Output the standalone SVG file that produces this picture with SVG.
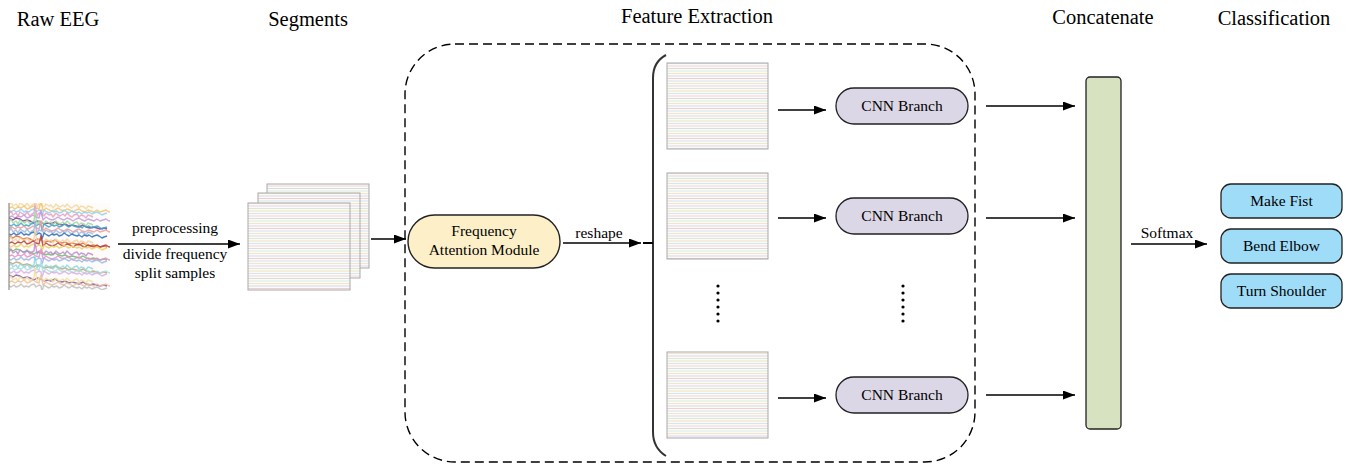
<svg xmlns="http://www.w3.org/2000/svg" xmlns:xlink="http://www.w3.org/1999/xlink" width="1352" height="465" viewBox="0 0 1352 465">
<style>
  .title{font-family:"Liberation Serif","Times New Roman",serif;font-size:20.5px;fill:#000;text-anchor:middle}
  .lbl{font-family:"Liberation Serif","Times New Roman",serif;font-size:15.5px;fill:#000;text-anchor:middle}
  .conn{stroke:#000;stroke-width:1.5;fill:none;marker-end:url(#ah)}
  .seg{fill:url(#stripes);stroke:#a9a9a9;stroke-width:1}
  .cnn{fill:#dcd7e6;stroke:#222;stroke-width:1.3}
  .cls{fill:#9fdcf8;stroke:#222;stroke-width:1.3}
  .sq{fill:none;stroke-width:1.4;stroke-linejoin:round}
</style>
<defs>
  <marker id="ah" viewBox="0 0 12 9" refX="12" refY="4.5" markerWidth="12" markerHeight="9" markerUnits="userSpaceOnUse" orient="auto">
    <path d="M0,0 L12,4.5 L0,9 z" fill="#000"/>
  </marker>
  <pattern id="stripes" patternUnits="userSpaceOnUse" width="104" height="30">
    <rect width="104" height="30" fill="#fbfaf6"/>
    <g stroke-width="1">
      <line x1="0" y1="1" x2="104" y2="1" stroke="#f1e3c4"/>
      <line x1="0" y1="3.5" x2="104" y2="3.5" stroke="#d6e6f1"/>
      <line x1="0" y1="6" x2="104" y2="6" stroke="#eed6de"/>
      <line x1="0" y1="8.5" x2="104" y2="8.5" stroke="#dcdcdc"/>
      <line x1="0" y1="11" x2="104" y2="11" stroke="#d8eee2"/>
      <line x1="0" y1="13.5" x2="104" y2="13.5" stroke="#f3e6c8"/>
      <line x1="0" y1="16" x2="104" y2="16" stroke="#dbd7ee"/>
      <line x1="0" y1="18.5" x2="104" y2="18.5" stroke="#ecd0d0"/>
      <line x1="0" y1="21" x2="104" y2="21" stroke="#d3e4ee"/>
      <line x1="0" y1="23.5" x2="104" y2="23.5" stroke="#eee7d0"/>
      <line x1="0" y1="26" x2="104" y2="26" stroke="#e4d6ea"/>
      <line x1="0" y1="28.5" x2="104" y2="28.5" stroke="#d9e9d6"/>
    </g>
  </pattern>
  <clipPath id="eegclip"><rect x="9" y="203" width="101" height="87"/></clipPath>
  <path id="s1" class="sq" d="M0,0 l3,-1 3,2 3,-2 3,1 3,-2 3,3 3,-1 3,-2 3,2 3,1 2,-8 2,10 3,-3 3,2 3,1 3,-1 3,-2 3,2 3,1 3,-2 3,1 3,2 3,-2 3,-1 3,2 3,1 3,-2 3,1 3,1 3,-2 3,2 3,-1 3,-1 3,2 3,-1"/>
  <path id="s2" class="sq" d="M0,0 l2,1 3,-2 2,2 3,-1 2,-2 3,3 2,-1 3,1 2,-2 3,-1 2,3 3,-2 2,1 1,5 2,-6 3,2 2,1 3,-2 2,1 3,-1 2,2 3,-1 2,-2 3,2 2,1 3,-2 2,1 3,1 2,-1 3,2 2,-2 3,1 2,-1 3,2 2,-1 3,-1 2,1 3,2 2,-1 3,-1"/>
  <path id="s3" class="sq" d="M0,0 l4,2 3,-2 4,1 3,2 4,-1 3,1 4,2 3,-2 4,1 3,2 4,-1 3,1 4,-2 3,2 4,1 3,-1 4,2 3,-1 4,1 3,1 4,-2 3,2 4,1 3,-1 4,1 3,1 4,-1 3,1"/>
  <path id="s4" class="sq" d="M0,0 l2,-3 2,4 3,-2 2,3 2,-4 3,2 2,1 2,-3 3,4 2,-2 2,-1 1,-9 2,12 2,-3 3,1 2,2 2,-3 3,2 2,-1 2,3 3,-4 2,2 2,1 3,-2 2,2 2,-3 3,3 2,1 2,-2 3,-1 2,3 2,-2 3,1 2,2 2,-3 3,1 2,1"/>
</defs>

<rect width="1352" height="465" fill="#fff"/>

<!-- titles -->
<text class="title" x="58" y="26">Raw EEG</text>
<text class="title" x="308" y="26">Segments</text>
<text class="title" x="697" y="23">Feature Extraction</text>
<text class="title" x="1103" y="24">Concatenate</text>
<text class="title" x="1274" y="25">Classification</text>

<!-- Raw EEG -->
<g id="raw-eeg">
  <rect x="9" y="203" width="101" height="87" fill="#fdfcfa"/>
  <g clip-path="url(#eegclip)" stroke-opacity="0.85">
    <use xlink:href="#s4" x="9" y="205" stroke="#f6d7a0"/>
    <use xlink:href="#s1" x="9" y="208" stroke="#f5c46a"/>
    <use xlink:href="#s2" x="9" y="211" stroke="#8fd0f0"/>
    <use xlink:href="#s4" x="9" y="214" stroke="#e8a0c8"/>
    <use xlink:href="#s1" x="9" y="217" stroke="#c49ad8"/>
    <use xlink:href="#s3" x="9" y="218" stroke="#7a3c8a"/>
    <use xlink:href="#s4" x="9" y="222" stroke="#a0d8a0"/>
    <use xlink:href="#s2" x="9" y="225" stroke="#3aa6c8"/>
    <use xlink:href="#s1" x="9" y="228" stroke="#f09a9a"/>
    <use xlink:href="#s4" x="9" y="231" stroke="#9fb8e0"/>
    <use xlink:href="#s2" x="9" y="234" stroke="#2b6fb8"/>
    <use xlink:href="#s3" x="9" y="236" stroke="#e0703a"/>
    <use xlink:href="#s4" x="9" y="240" stroke="#f4d0a0"/>
    <use xlink:href="#s1" x="9" y="243" stroke="#b43c3c"/>
    <use xlink:href="#s2" x="9" y="246" stroke="#f0d060"/>
    <use xlink:href="#s3" x="9" y="249" stroke="#6bc06b"/>
    <use xlink:href="#s4" x="9" y="252" stroke="#c08ad0"/>
    <use xlink:href="#s1" x="9" y="256" stroke="#e890c8"/>
    <use xlink:href="#s2" x="9" y="259" stroke="#9ab8e8"/>
    <use xlink:href="#s3" x="9" y="262" stroke="#c8a070"/>
    <use xlink:href="#s4" x="9" y="266" stroke="#8ed8e0"/>
    <use xlink:href="#s1" x="9" y="269" stroke="#a8e0e0"/>
    <use xlink:href="#s2" x="9" y="272" stroke="#d8b0e8"/>
    <use xlink:href="#s3" x="9" y="275" stroke="#8a5aa8"/>
    <use xlink:href="#s4" x="9" y="279" stroke="#f0e0a0"/>
    <use xlink:href="#s1" x="9" y="282" stroke="#f0c0a0"/>
    <use xlink:href="#s2" x="9" y="286" stroke="#c0c0c0"/>
  </g>
  <line x1="9" y1="203" x2="9" y2="290" stroke="#8c8c8c" stroke-width="1.2"/>
</g>

<!-- Segments -->
<g id="segments">
  <rect class="seg" x="267" y="184" width="102" height="84"/>
  <rect class="seg" x="258" y="193" width="102" height="85"/>
  <rect class="seg" x="248" y="203" width="102" height="87"/>
</g>

<!-- Feature extraction container -->
<g id="feature-extraction">
  <rect x="405" y="44" width="570" height="418" rx="50" ry="50" fill="none" stroke="#000" stroke-width="1.4" stroke-dasharray="9,5"/>
</g>

<g id="fam">
  <rect x="408" y="215" width="152" height="53" rx="26.5" ry="26.5" fill="#fdf0c9" stroke="#222" stroke-width="1.4"/>
  <text class="lbl" x="484" y="236">Frequency</text>
  <text class="lbl" x="484" y="255">Attention Module</text>
</g>

<g id="brace">
  <path d="M666,55 Q653,62 653,78 L653,432 Q653,448 666,456" fill="none" stroke="#333" stroke-width="2"/>
  <line x1="643" y1="243" x2="653" y2="243" stroke="#000" stroke-width="2"/>
</g>

<g id="seg-1"><rect class="seg" x="667" y="63" width="101" height="86"/></g>
<g id="seg-2"><rect class="seg" x="667" y="173" width="101" height="86"/></g>
<g id="seg-n"><rect class="seg" x="667" y="352" width="101" height="86"/></g>

<g id="cnn-1">
  <rect class="cnn" x="836" y="88" width="132" height="36" rx="18" ry="18"/>
  <text class="lbl" x="902" y="111">CNN Branch</text>
</g>
<g id="cnn-2">
  <rect class="cnn" x="836" y="198" width="132" height="36" rx="18" ry="18"/>
  <text class="lbl" x="902" y="221">CNN Branch</text>
</g>
<g id="cnn-n">
  <rect class="cnn" x="836" y="377" width="132" height="36" rx="18" ry="18"/>
  <text class="lbl" x="902" y="400">CNN Branch</text>
</g>

<g id="ellipsis" fill="#000">
  <circle cx="718" cy="286" r="1.6"/><circle cx="718" cy="293" r="1.6"/><circle cx="718" cy="300" r="1.6"/>
  <circle cx="718" cy="307" r="1.6"/><circle cx="718" cy="314" r="1.6"/><circle cx="718" cy="321" r="1.6"/>
  <circle cx="903" cy="286" r="1.6"/><circle cx="903" cy="293" r="1.6"/><circle cx="903" cy="300" r="1.6"/>
  <circle cx="903" cy="307" r="1.6"/><circle cx="903" cy="314" r="1.6"/><circle cx="903" cy="321" r="1.6"/>
</g>

<g id="concat">
  <rect x="1086" y="77" width="35" height="352" rx="4" ry="4" fill="#d7e3c0" stroke="#222" stroke-width="1.3"/>
</g>

<g id="cls-fist">
  <rect class="cls" x="1221" y="184" width="121" height="34" rx="10" ry="10"/>
  <text class="lbl" x="1281.5" y="206">Make Fist</text>
</g>
<g id="cls-elbow">
  <rect class="cls" x="1221" y="229" width="121" height="34" rx="10" ry="10"/>
  <text class="lbl" x="1281.5" y="251">Bend Elbow</text>
</g>
<g id="cls-shoulder">
  <rect class="cls" x="1221" y="274" width="121" height="34" rx="10" ry="10"/>
  <text class="lbl" x="1281.5" y="296">Turn Shoulder</text>
</g>

<!-- connectors -->
<g id="connectors">
  <line class="conn" x1="118" y1="244" x2="240" y2="244"/>
  <line class="conn" x1="371" y1="239" x2="406" y2="239"/>
  <line class="conn" x1="563" y1="243" x2="641" y2="243"/>
  <line class="conn" x1="778" y1="110" x2="826" y2="110"/>
  <line class="conn" x1="778" y1="218" x2="826" y2="218"/>
  <line class="conn" x1="778" y1="398" x2="826" y2="398"/>
  <line class="conn" x1="986" y1="106" x2="1075" y2="106"/>
  <line class="conn" x1="986" y1="218" x2="1075" y2="218"/>
  <line class="conn" x1="986" y1="395" x2="1075" y2="395"/>
  <line class="conn" x1="1131" y1="244" x2="1207" y2="244"/>
</g>

<g id="connector-labels">
  <text class="lbl" x="175" y="233">preprocessing</text>
  <text class="lbl" x="175" y="259">divide frequency</text>
  <text class="lbl" x="175" y="278">split samples</text>
  <text class="lbl" x="599" y="238">reshape</text>
  <text class="lbl" x="1167" y="238">Softmax</text>
</g>
</svg>
